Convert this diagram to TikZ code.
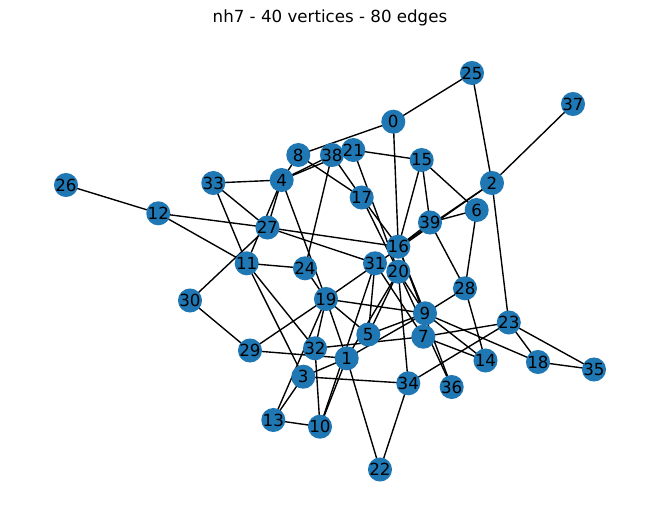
\documentclass[tikz,border=0pt]{standalone}
\usepackage{fontspec}
\setmainfont{DejaVu Sans}
\pgfdeclarelayer{background}
\pgfsetlayers{background,main}
\definecolor{nxblue}{HTML}{1F77B4}
\begin{document}
\begin{tikzpicture}[x=0.72pt,y=-0.72pt,
  vtx/.style={circle,fill=nxblue,draw=none,minimum size=17.3pt,inner sep=0pt,
    label={[font=\fontsize{12}{14}\selectfont,inner sep=0pt]center:#1}},
  edge/.style={draw=black,line width=1pt}]
\path[use as bounding box] (0,0) rectangle (660,522);
\node[font=\fontsize{12}{14}\selectfont] (title) at (330,18) {nh7 - 40 vertices - 80 edges};
\node[vtx=0] (n0) at (393.3,121.7) {};
\node[vtx=1] (n1) at (346.7,358.3) {};
\node[vtx=2] (n2) at (492,183) {};
\node[vtx=3] (n3) at (303.3,376.7) {};
\node[vtx=4] (n4) at (281.7,180) {};
\node[vtx=5] (n5) at (368.3,334.5) {};
\node[vtx=6] (n6) at (476.7,210) {};
\node[vtx=7] (n7) at (423.3,336.7) {};
\node[vtx=8] (n8) at (298.3,155) {};
\node[vtx=9] (n9) at (425,313.3) {};
\node[vtx=10] (n10) at (320,426.7) {};
\node[vtx=11] (n11) at (246.7,263.3) {};
\node[vtx=12] (n12) at (158.3,213.3) {};
\node[vtx=13] (n13) at (273.3,420) {};
\node[vtx=14] (n14) at (485.5,360.5) {};
\node[vtx=15] (n15) at (421.7,160) {};
\node[vtx=16] (n16) at (398.3,246.7) {};
\node[vtx=17] (n17) at (361.7,197.5) {};
\node[vtx=18] (n18) at (538,362) {};
\node[vtx=19] (n19) at (326,299) {};
\node[vtx=20] (n20) at (398.3,271.7) {};
\node[vtx=21] (n21) at (353.3,150) {};
\node[vtx=22] (n22) at (380,469.5) {};
\node[vtx=23] (n23) at (508.8,322.5) {};
\node[vtx=24] (n24) at (305,268.3) {};
\node[vtx=25] (n25) at (472,73) {};
\node[vtx=26] (n26) at (66,185) {};
\node[vtx=27] (n27) at (267.5,227.5) {};
\node[vtx=28] (n28) at (465,288.3) {};
\node[vtx=29] (n29) at (250,350.5) {};
\node[vtx=30] (n30) at (190,300.5) {};
\node[vtx=31] (n31) at (375,263.3) {};
\node[vtx=32] (n32) at (315,348.3) {};
\node[vtx=33] (n33) at (213.3,183) {};
\node[vtx=34] (n34) at (408.3,383.3) {};
\node[vtx=35] (n35) at (594,369.5) {};
\node[vtx=36] (n36) at (451.7,387) {};
\node[vtx=37] (n37) at (573,104) {};
\node[vtx=38] (n38) at (332,155) {};
\node[vtx=39] (n39) at (430,222.5) {};
\begin{pgfonlayer}{background}
\fill[white] (0,0) rectangle (660,522);
\foreach \a/\b in {0/25,0/8,0/16,25/2,37/2,2/23,2/16,2/19,15/21,15/16,
  15/39,15/6,39/28,6/28,39/16,39/6,8/4,8/17,38/17,4/38,
  4/21,21/20,17/16,17/20,38/24,4/33,33/27,33/11,4/27,4/11,
  30/27,30/29,12/26,12/27,12/11,27/16,27/31,11/24,11/32,11/3,
  29/19,29/1,24/19,4/19,19/5,19/1,19/9,19/32,13/19,13/3,
  13/10,32/10,32/7,3/1,3/34,1/10,10/31,1/22,34/22,34/20,
  34/23,1/9,5/9,7/23,9/28,28/14,9/14,7/14,9/18,23/18,
  23/35,18/35,20/36,16/36,16/9,20/9,31/7,31/5,20/5,20/1}
  \draw[edge] (n\a.center) -- (n\b.center);
\end{pgfonlayer}
\end{tikzpicture}
\end{document}
